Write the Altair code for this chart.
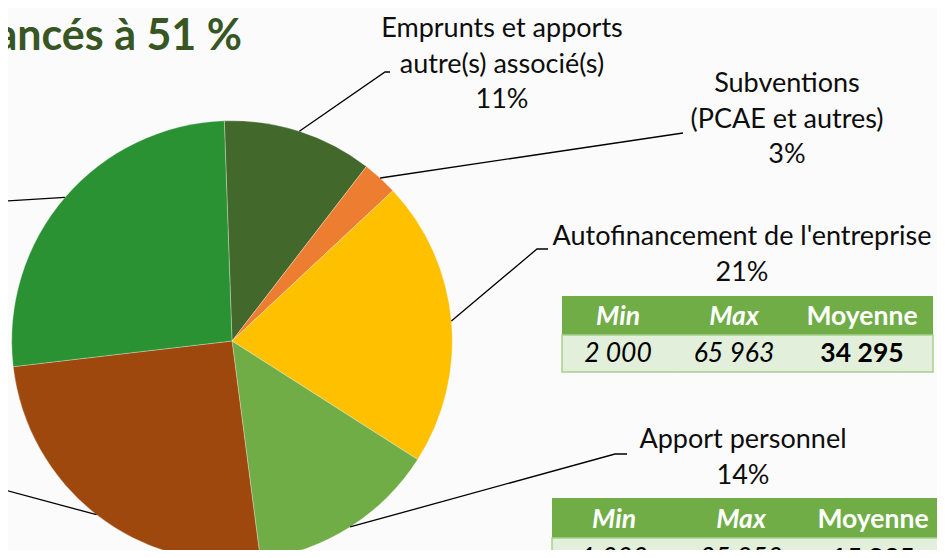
import math
import altair as alt
import pandas as pd

# ---------------- data ----------------
categories = [
    "Emprunts et apports autre(s) associé(s)",
    "Subventions (PCAE et autres)",
    "Autofinancement de l'entreprise",
    "Apport personnel",
    "Emprunts bancaires (2)",
    "Emprunts bancaires (1)",
]
shares = [11.0, 2.6, 21.0, 13.9, 25.2, 26.3]
colors = ["#43682B", "#ED7D31", "#FFC000", "#70AD47", "#9E480E", "#2A9232"]

label_lines = [
    ["Emprunts et apports", "autre(s) associé(s)"],
    ["Subventions", "(PCAE et autres)"],
    ["Autofinancement de l'entreprise"],
    ["Apport personnel"],
    None,
    None,
]

title_text = "financés à 51 %"

stat_headers = ["Min", "Max", "Moyenne"]
autofin_stats = [2000, 65963, 34295]
apport_stats = [1000, 35950, 15835]

# ---------------- layout (page px minus 8px page margin) ----------------
OFF = 8
W, H = 929, 542
CX, CY, R = 232 - OFF, 341 - OFF, 220.3
START = math.radians(-2.0)
FONT = "Lato"
LABEL_SIZE = 27
TABLE_SIZE = 26.5
LH = 35.5

label_anchor = {0: (502, 37), 1: (787, 92), 2: (742, 245), 3: (743, 448)}
leader_ends = {
    0: [(385, 72), (390, 72)],
    1: [(683, 133)],
    2: [(537, 249), (548, 249)],
    3: [(615, 454), (627, 454)],
    4: [(-10, 486)],
    5: [(-10, 202)],
}
tables = [
    dict(stats=autofin_stats, x0=562, x1=933, y0=296, y1=335, y2=372,
         cols=[618, 734, 862], bh=325, bd=362),
    dict(stats=apport_stats, x0=552, x1=965, y0=498, y1=538, y2=578,
         cols=[614, 741, 873], bh=528, bd=567),
]

total = sum(shares)

# pie data
pie_df = pd.DataFrame({"cat": categories, "value": shares, "idx": range(len(shares))})

# leader lines and labels
lead_rows, lab_rows = [], []
cum = 0.0
for i, v in enumerate(shares):
    a = START + 2 * math.pi * (cum + v / 2) / total
    cum += v
    sx, sy = CX + R * math.sin(a), CY - R * math.cos(a)
    pts = [(sx, sy)] + [(x - OFF, y - OFF) for x, y in leader_ends[i]]
    for k, (x, y) in enumerate(pts):
        lead_rows.append({"id": i, "k": k, "x": x, "y": y})
    if label_lines[i] is not None:
        ax, ay = label_anchor[i]
        lines = label_lines[i] + [f"{round(v)}%"]
        for j, t in enumerate(lines):
            lab_rows.append({"t": t, "x": ax - OFF, "y": ay - OFF + j * LH})
lead_df = pd.DataFrame(lead_rows)
lab_df = pd.DataFrame(lab_rows)

# shadow disks
shadow_df = pd.DataFrame({"r": [R + 1 + 2 * i for i in range(16)]})

# tables
rect_rows, txt_rows = [], []
def fmt(n):
    return f"{n:,}".replace(",", " ")
for t in tables:
    rect_rows.append({"x": t["x0"] - OFF, "x2": t["x1"] - OFF, "y": t["y0"] - OFF,
                      "y2": t["y1"] - OFF, "kind": "head"})
    rect_rows.append({"x": t["x0"] - OFF, "x2": t["x1"] - OFF, "y": t["y1"] - OFF,
                      "y2": t["y2"] - OFF, "kind": "body"})
    for c, (hd, val) in enumerate(zip(stat_headers, t["stats"])):
        txt_rows.append({"t": hd, "x": t["cols"][c] - OFF, "y": t["bh"] - OFF,
                         "style": "hi" if c < 2 else "hb"})
        txt_rows.append({"t": fmt(val), "x": t["cols"][c] - OFF, "y": t["bd"] - OFF,
                         "style": "di" if c < 2 else "db"})
rect_df = pd.DataFrame(rect_rows)
txt_df = pd.DataFrame(txt_rows)

px = lambda f: alt.X(f, scale=None, axis=None)
py = lambda f: alt.Y(f, scale=None, axis=None)

shadow = alt.Chart(shadow_df).mark_arc(theta=0, theta2=2 * math.pi, color="#000000",
                                       opacity=0.016).encode(
    radius=alt.Radius("r:Q", scale=None), x=alt.value(CX), y=alt.value(CY))

pie = alt.Chart(pie_df).mark_arc(radius=R, stroke="#ffffff", strokeWidth=0.6,
                                 strokeOpacity=0.5).encode(
    theta=alt.Theta("value:Q", stack=True,
                    scale=alt.Scale(domain=[0, total], range=[START, START + 2 * math.pi])),
    color=alt.Color("cat:N", scale=alt.Scale(domain=categories, range=colors), legend=None),
    order=alt.Order("idx:Q"),
    x=alt.value(CX), y=alt.value(CY),
)

leaders = alt.Chart(lead_df).mark_line(color="#000000", strokeWidth=1.3).encode(
    x=px("x:Q"), y=py("y:Q"), detail="id:N", order="k:Q")

labels = alt.Chart(lab_df).mark_text(font=FONT, fontSize=LABEL_SIZE, color="#0d0d0d",
                                     align="center", baseline="alphabetic").encode(
    x=px("x:Q"), y=py("y:Q"), text="t:N")

title = alt.Chart(pd.DataFrame({"t": [title_text]})).mark_text(
    font=FONT, fontSize=43, fontWeight="bold", color="#375623", align="right",
    baseline="alphabetic").encode(x=alt.value(242 - OFF), y=alt.value(50 - OFF), text="t:N")

head_rect = alt.Chart(rect_df).transform_filter("datum.kind == 'head'").mark_rect(
    color="#70AD47").encode(x=px("x:Q"), x2="x2:Q", y=py("y:Q"), y2="y2:Q")
body_rect = alt.Chart(rect_df).transform_filter("datum.kind == 'body'").mark_rect(
    fill="#E2EFDA", stroke="#A9D08E", strokeWidth=1.5).encode(
    x=px("x:Q"), x2="x2:Q", y=py("y:Q"), y2="y2:Q")

def tlayer(style, color, weight, fstyle):
    return alt.Chart(txt_df).transform_filter(f"datum.style == '{style}'").mark_text(
        font=FONT, fontSize=TABLE_SIZE, color=color, fontWeight=weight, fontStyle=fstyle,
        align="center", baseline="alphabetic").encode(x=px("x:Q"), y=py("y:Q"), text="t:N")

texts = [
    tlayer("hi", "#ffffff", "bold", "italic"),
    tlayer("hb", "#ffffff", "bold", "normal"),
    tlayer("di", "#000000", "normal", "italic"),
    tlayer("db", "#000000", "bold", "normal"),
]

chart = alt.layer(shadow, pie, leaders, labels, title, head_rect, body_rect, *texts).properties(
    width=W, height=H, autosize=alt.AutoSizeParams(type="none"), padding=0
).configure_view(stroke=None)

chart.save("out.html", embed_options={"renderer": "svg", "actions": False})
